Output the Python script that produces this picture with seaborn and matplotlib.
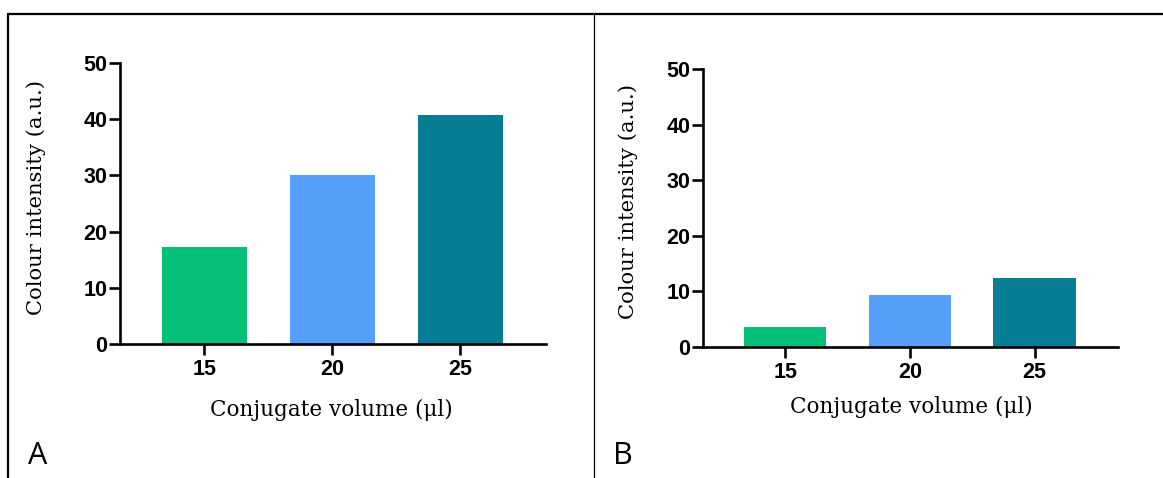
import pandas as pd
import matplotlib.pyplot as plt
import seaborn as sns
from matplotlib.lines import Line2D

volumes = ["15", "20", "25"]
intensity_a = [17.3, 30.1, 40.8]
intensity_b = [3.6, 9.3, 12.3]
bar_colors = ["#06BF78", "#56A0FB", "#077D96"]
y_ticks = [0, 10, 20, 30, 40, 50]

sns.set_style("ticks")
plt.rcParams['font.family'] = ['DejaVu Sans']
plt.rcParams['text.color'] = 'black'

fig = plt.figure(figsize=(11.63, 4.78), dpi=100)

# panel positions: left, bottom, width, height (figure fractions)
panels = [
    ("A", intensity_a, [0.1032, 0.2803, 0.3663, 0.5879], (0.495, -0.235), (-0.197, 0.523), 0.024),
    ("B", intensity_b, [0.6045, 0.2747, 0.3568, 0.5803], (0.501, -0.217), (-0.181, 0.523), 0.527),
]

for letter, vals, pos, xl, yl, letter_x in panels:
    ax = fig.add_axes(pos)
    df = pd.DataFrame({"volume": volumes, "intensity": vals})
    sns.barplot(data=df, x="volume", y="intensity", hue="volume", palette=bar_colors,
                width=0.66, legend=False, saturation=1, edgecolor="none", ax=ax)
    ax.set_ylim(0, 50)
    ax.set_xlim(-0.66, 2.67)
    ax.set_yticks(y_ticks)
    sns.despine(ax=ax)
    for s in ["left", "bottom"]:
        ax.spines[s].set_linewidth(1.9)
        ax.spines[s].set_color("black")
    ax.tick_params(axis="both", width=1.9, length=8, color="black",
                   labelcolor="black", labelsize=15.5)
    ax.tick_params(axis="y", pad=1)
    ax.tick_params(axis="x", pad=3)
    for lab in ax.get_xticklabels() + ax.get_yticklabels():
        lab.set_fontfamily("Liberation Sans")
        lab.set_fontweight("bold")
    ax.set_xlabel("Conjugate volume (μl)", fontsize=15.5, family="DejaVu Serif", color="black")
    ax.set_ylabel("Colour intensity (a.u.)", fontsize=15.2, family="DejaVu Serif", color="black")
    ax.xaxis.set_label_coords(*xl)
    ax.xaxis.label.set_va("center")
    ax.yaxis.set_label_coords(*yl)
    ax.yaxis.label.set_va("center")
    fig.text(letter_x, 0.03, letter, fontsize=22, family="Open Sans", color="black", va="baseline")

# panel frame lines
top = 1 - 14 / 478
fig.add_artist(Line2D([8 / 1163, 1], [top, top], color="black", lw=1.6))
fig.add_artist(Line2D([8 / 1163, 8 / 1163], [0, top], color="black", lw=1.6))
fig.add_artist(Line2D([593.5 / 1163, 593.5 / 1163], [0, top], color="black", lw=0.9))

plt.savefig("out.png", dpi=100)
